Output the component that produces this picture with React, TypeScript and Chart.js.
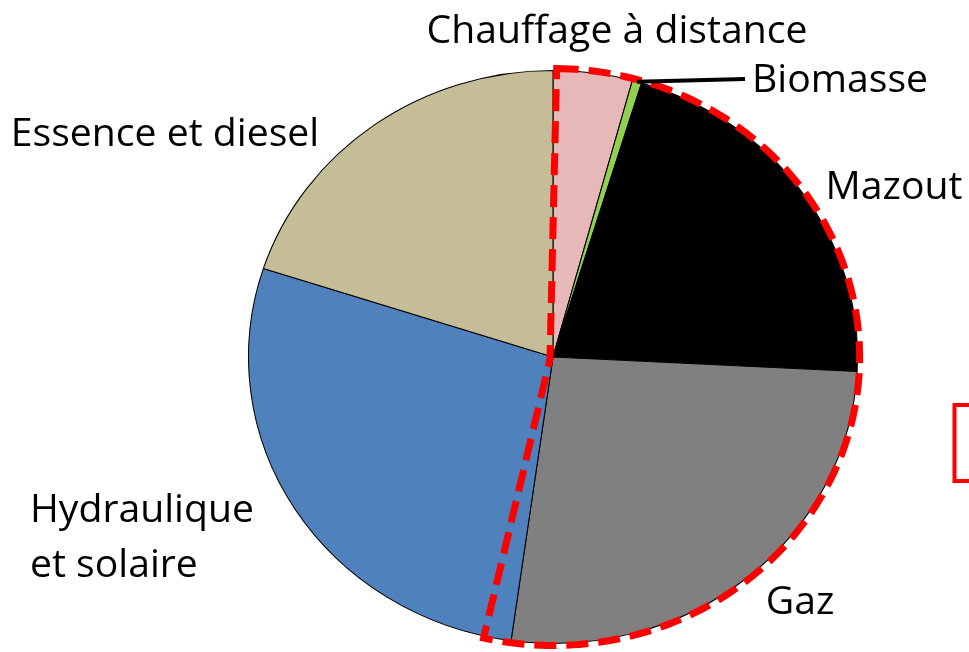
import React, { useEffect, useRef } from "react";
import { Chart, registerables } from "chart.js";

Chart.register(...registerables);

// ---- Data ----
const categories = [
  "Chauffage à distance",
  "Biomasse",
  "Mazout",
  "Gaz",
  "Hydraulique et solaire",
  "Essence et diesel",
];
const labelLines = [
  ["Chauffage à distance"],
  ["Biomasse"],
  ["Mazout"],
  ["Gaz"],
  ["Hydraulique", "et solaire"],
  ["Essence et diesel"],
];
const shares = [4.2, 0.5, 21.1, 26.4, 27.8, 20.0];
const sliceColors = ["#E6B9B8", "#92D050", "#000000", "#808080", "#4F81BD", "#C4BD97"];
const highlighted = [0, 1, 2, 3];
const leaderIndex = 1;

// ---- Layout / style (not data) ----
const SX = 304.5 / 286.5; // horizontal stretch of the pie (ellipse)
const FONT_FAMILY = '"Open Sans", "Noto Sans", sans-serif';
const labelLayout: { x: number; y: number; align: CanvasTextAlign; lh?: number }[] = [
  { x: 617, y: 43, align: "center" },
  { x: 840, y: 92, align: "center" },
  { x: 894, y: 199, align: "center" },
  { x: 800, y: 614, align: "center" },
  { x: 30, y: 522, align: "left", lh: 55 },
  { x: 165, y: 146, align: "center" },
];

const ellipsePlugin = {
  id: "ellipseStretch",
  beforeDatasetsDraw(chart: any) {
    const arc = chart.getDatasetMeta(0).data[0];
    if (!arc) return;
    const { x, y } = arc.getProps(["x", "y"], true);
    const ctx = chart.ctx;
    ctx.save();
    ctx.translate(x, y);
    ctx.scale(SX, 1);
    ctx.translate(-x, -y);
  },
  afterDatasetsDraw(chart: any) {
    chart.ctx.restore();
  },
};

const annotationPlugin = {
  id: "annotations",
  afterDraw(chart: any) {
    const ctx: CanvasRenderingContext2D = chart.ctx;
    const arcs = chart.getDatasetMeta(0).data as any[];
    const p0 = arcs[0].getProps(["x", "y", "outerRadius"], true);
    const cx = p0.x, cy = p0.y, R = p0.outerRadius;
    const pt = (ang: number, r: number) => [cx + SX * r * Math.cos(ang), cy + r * Math.sin(ang)];

    // red dashed outline around highlighted slices
    const first = arcs[highlighted[0]].getProps(["startAngle"], true).startAngle;
    const last = arcs[highlighted[highlighted.length - 1]].getProps(["endAngle"], true).endAngle;
    const a1 = first + 0.012;
    const a2 = last + 0.09;
    ctx.save();
    ctx.strokeStyle = "#FF0000";
    ctx.lineWidth = 7;
    ctx.setLineDash([22, 10]);
    ctx.beginPath();
    const steps = 160;
    for (let i = 0; i <= steps; i++) {
      const ang = a1 + ((a2 - a1) * i) / steps;
      const [px, py] = pt(ang, R + 2);
      if (i === 0) ctx.moveTo(px, py);
      else ctx.lineTo(px, py);
    }
    ctx.lineTo(cx - 3, cy + 2);
    ctx.closePath();
    ctx.stroke();
    ctx.restore();

    // leader line to Biomasse
    const g = arcs[leaderIndex].getProps(["startAngle", "endAngle"], true);
    const mid = (g.startAngle + g.endAngle) / 2;
    const [lx, ly] = pt(mid, R);
    ctx.save();
    ctx.strokeStyle = "#000000";
    ctx.lineWidth = 4;
    ctx.beginPath();
    ctx.moveTo(lx, ly);
    ctx.lineTo(745, 79);
    ctx.stroke();
    ctx.restore();

    // partial red rectangle at right edge
    ctx.save();
    ctx.strokeStyle = "#FF0000";
    ctx.lineWidth = 4;
    ctx.strokeRect(954.5, 405, 80, 76);
    ctx.restore();

    // labels
    ctx.save();
    ctx.font = `100px ${FONT_FAMILY}`;
    const w = ctx.measureText(labelLines[0][0]).width;
    const size = (100 * 381) / w;
    ctx.font = `${size}px ${FONT_FAMILY}`;
    ctx.fillStyle = "#000000";
    ctx.textBaseline = "alphabetic";
    labelLines.forEach((lines, i) => {
      const L = labelLayout[i];
      ctx.textAlign = L.align;
      lines.forEach((t, j) => ctx.fillText(t, L.x, L.y + j * (L.lh || 0)));
    });
    ctx.restore();
  },
};

export default function App() {
  const ref = useRef<HTMLCanvasElement | null>(null);
  useEffect(() => {
    document.body.style.margin = "0";
    const canvas = ref.current;
    if (!canvas) return;
    const chart = new Chart(canvas, {
      type: "pie",
      data: {
        labels: categories,
        datasets: [
          {
            data: shares,
            backgroundColor: sliceColors,
            borderColor: "#000000",
            borderWidth: 1,
            clip: false as any,
          },
        ],
      },
      options: {
        responsive: false,
        animation: false,
        events: [],
        devicePixelRatio: 1,
        layout: { padding: { left: 248, right: 111, top: 70, bottom: 8 } },
        plugins: {
          legend: { display: false },
          tooltip: { enabled: false },
        },
      },
      plugins: [ellipsePlugin, annotationPlugin],
    });
    return () => chart.destroy();
  }, []);
  return (
    <div style={{ position: "absolute", left: 0, top: 0, width: 969, height: 652, background: "#fff" }}>
      <canvas ref={ref} width={969} height={652} style={{ display: "block" }} />
    </div>
  );
}
